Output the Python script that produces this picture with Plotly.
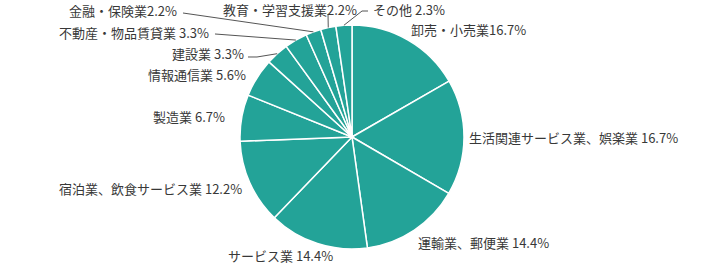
import math
import plotly.graph_objects as go

# ---- data ----
names = ["卸売・小売業", "生活関連サービス業、娯楽業", "運輸業、郵便業", "サービス業",
         "宿泊業、飲食サービス業", "製造業", "情報通信業", "建設業",
         "不動産・物品賃貸業", "金融・保険業", "教育・学習支援業", "その他"]
values = [16.7, 16.7, 14.4, 14.4, 12.2, 6.7, 5.6, 3.3, 3.3, 2.2, 2.2, 2.3]
separators = ["", " ", " ", " ", " ", " ", " ", " ", " ", "", "", " "]
label_texts = [f"{n}{s}{v}%" for n, s, v in zip(names, separators, values)]

# ---- layout constants (pixels) ----
W, H = 705, 265
CX, CY, R = 352, 137, 112
COLOR = "#23a398"
TEXT_COLOR = "#383838"
FONT = "Noto Sans CJK JP, Noto Sans, sans-serif"

# label placement: (x, y, anchor, leader elbow points)
label_layout = [
    (410, 30, "left", None),
    (468, 137, "left", None),
    (417, 242, "left", None),
    (227, 255, "left", None),
    (243, 188, "right", None),
    (226, 116, "right", None),
    (247, 75, "right", None),
    (245, 54, "right", [(257, 57), (248, 57)]),
    (210, 33, "right", [(215, 34)]),
    (178, 11, "right", [(183, 13)]),
    (358, 10, "right", [(328, 14)]),
    (372, 10, "left", [(362, 11), (368, 11)]),
]

def px(x):
    return x / W

def py(y):
    return 1 - y / H

fig = go.Figure(go.Pie(
    labels=names,
    values=values,
    sort=False,
    direction="clockwise",
    rotation=0,
    textinfo="none",
    hoverinfo="label+percent",
    marker=dict(colors=[COLOR] * len(values), line=dict(color="white", width=1.5)),
    domain=dict(x=[px(CX - R), px(CX + R)], y=[py(CY + R), py(CY - R)]),
    showlegend=False,
))

total = sum(values)
cum = 0.0
annotations = []
shapes = []
for v, txt, (lx, ly, anc, elbow) in zip(values, label_texts, label_layout):
    mid = (cum + v / 2) / total * 2 * math.pi
    cum += v
    ex = CX + R * math.sin(mid)
    ey = CY - R * math.cos(mid)
    annotations.append(dict(
        x=px(lx), y=py(ly), xref="paper", yref="paper",
        text=txt, showarrow=False, xanchor=anc, yanchor="middle",
        borderpad=0,
        font=dict(size=13, color=TEXT_COLOR, family=FONT),
    ))
    if elbow:
        pts = [(ex, ey)] + elbow
        path = "M " + " L ".join(f"{px(a):.5f},{py(b):.5f}" for a, b in pts)
        shapes.append(dict(type="path", path=path, xref="paper", yref="paper",
                           line=dict(color="#555555", width=1)))

fig.update_layout(
    width=W, height=H,
    margin=dict(l=0, r=0, t=0, b=0),
    paper_bgcolor="white",
    plot_bgcolor="white",
    annotations=annotations,
    shapes=shapes,
    font=dict(family=FONT),
)

fig.write_html("out.html")
